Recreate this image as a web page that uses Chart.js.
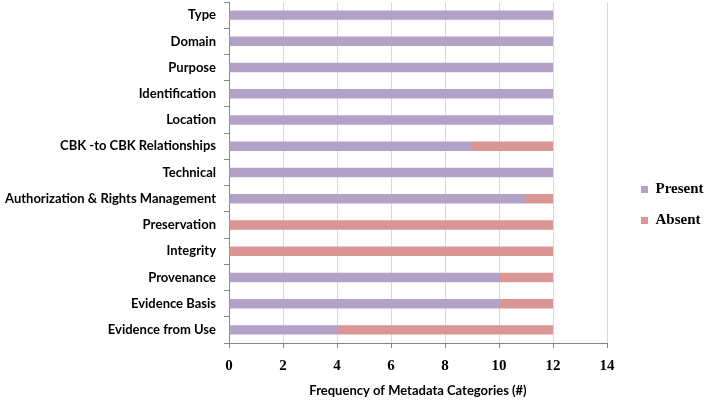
<!DOCTYPE html>
<html>
<head>
<meta charset="utf-8">
<script src="https://cdn.jsdelivr.net/npm/chart.js@4"></script>
<style>
  html, body { margin: 0; padding: 0; background: #fff; }
  #wrap { width: 709px; height: 402px; }
</style>
</head>
<body>
<div id="wrap"><canvas id="metaChart" width="709" height="402"></canvas></div>
<script>
// 카테고리 / 값
const categories = [
  'Type', 'Domain', 'Purpose', 'Identification', 'Location',
  'CBK -to CBK Relationships', 'Technical', 'Authorization & Rights Management',
  'Preservation', 'Integrity', 'Provenance', 'Evidence Basis', 'Evidence from Use'
];
const presentValues = [12, 12, 12, 12, 12, 9, 12, 11, 0, 0, 10, 10, 4];
const absentValues  = [0, 0, 0, 0, 0, 3, 0, 1, 12, 12, 2, 2, 8];
const xTicks = [0, 2, 4, 6, 8, 10, 12, 14];

// 레이아웃 보정값
const yAxisWidth = 229;
const xAxisHeight = 59;
const legendWidth = 102;
const legendShiftX = 18;
const legendShiftY = 3;

// 범례를 플롯 영역에서 조금 떨어뜨리기
const legendGap = {
  id: 'legendGap',
  beforeUpdate(chart) {
    const lg = chart.legend;
    if (lg && !lg._gapPatched) {
      const fit = lg.fit;
      lg.fit = function () {
        fit.call(this);
        this.width = legendWidth;
      };
      lg._gapPatched = true;
    }
  },
  afterLayout(chart) {
    const lg = chart.legend;
    if (lg) {
      lg.left += legendShiftX;
      lg.top += legendShiftY;
      lg.bottom += legendShiftY;
    }
  }
};

const ctx = document.getElementById('metaChart').getContext('2d');
const chart = new Chart(ctx, {
  type: 'bar',
  data: {
    labels: categories,
    datasets: [{
      label: 'Present',
      data: presentValues,
      backgroundColor: '#b3a2c7',
      barPercentage: 0.36,
      categoryPercentage: 1
    }, {
      label: 'Absent',
      data: absentValues,
      backgroundColor: '#d99694',
      barPercentage: 0.36,
      categoryPercentage: 1
    }]
  },
  options: {
    indexAxis: 'y',
    responsive: false,
    animation: false,
    layout: { padding: { top: 2, left: 0, right: 0, bottom: 0 } },
    plugins: {
      legend: {
        position: 'right',
        labels: {
          boxWidth: 7,
          boxHeight: 7,
          padding: 16,
          color: '#000',
          font: { family: 'Liberation Serif', size: 15, weight: 'bold' }
        }
      },
      tooltip: { enabled: false }
    },
    scales: {
      x: {
        stacked: true,
        min: 0,
        max: 14,
        afterBuildTicks: axis => { axis.ticks = xTicks.map(v => ({ value: v })); },
        afterFit: axis => { axis.height = xAxisHeight; },
        grid: { color: '#d9d9d9', tickColor: '#868686', tickLength: 5 },
        border: { color: '#868686' },
        ticks: {
          color: '#000',
          padding: 9,
          font: { family: 'Liberation Serif', size: 15, weight: 'bold' }
        },
        title: {
          display: true,
          text: 'Frequency of Metadata Categories (#)',
          color: '#000',
          padding: { top: 8, bottom: 3 },
          font: { family: 'Lato', size: 13, weight: 'bold' }
        }
      },
      y: {
        stacked: true,
        afterFit: axis => {
          axis.width = yAxisWidth;
          axis.paddingTop = 0;
          axis.paddingBottom = 0;
        },
        grid: { offset: true, drawOnChartArea: false, tickColor: '#868686', tickLength: 5 },
        border: { color: '#868686' },
        ticks: {
          color: '#000',
          padding: 8,
          font: { family: 'Lato', size: 13, weight: 'bold' }
        }
      }
    }
  },
  plugins: [legendGap]
});
</script>
</body>
</html>
